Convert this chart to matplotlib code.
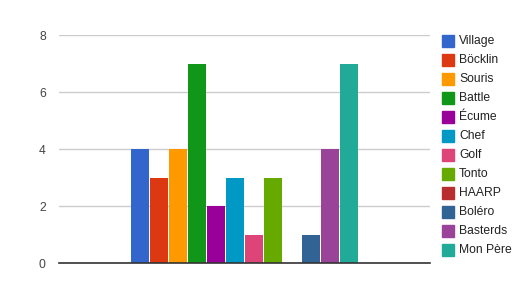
import matplotlib
matplotlib.use("Agg")
import matplotlib.pyplot as plt
from matplotlib.patches import Rectangle

series = ["Village", "Böcklin", "Souris", "Battle", "Écume", "Chef", "Golf",
          "Tonto", "HAARP", "Boléro", "Basterds", "Mon Père"]
values = [4, 3, 4, 7, 2, 3, 1, 3, 0, 1, 4, 7]
colors = ["#3366cc", "#dc3912", "#ff9900", "#109618", "#990099", "#0099c6",
          "#dd4477", "#66aa00", "#b82e2e", "#316395", "#994499", "#22aa99"]
yticks = [0, 2, 4, 6, 8]

plt.rcParams['font.family'] = ['Liberation Sans', 'DejaVu Sans']
W, H = 531, 298
fig = plt.figure(figsize=(W / 100, H / 100), dpi=100)
ax = fig.add_axes([59 / W, (H - 263.3) / H, (430 - 59) / W, (263.3 - 35.3) / H])

n = len(series)
group = 0.615
slot = group / n
bw = slot * 0.95
for i, (s, v, c) in enumerate(zip(series, values, colors)):
    x = -group / 2 + slot * (i + 0.5)
    ax.bar(x, v, width=bw, color=c, zorder=3)

ax.set_xlim(-0.5, 0.5)
ax.set_ylim(0, 8)
ax.set_yticks(yticks)
ax.set_yticklabels([str(t) for t in yticks])
ax.set_xticks([])
for sp in ["top", "right", "left"]:
    ax.spines[sp].set_visible(False)
ax.spines["bottom"].set_color("#333333")
ax.spines["bottom"].set_linewidth(1.2)
ax.spines["bottom"].set_zorder(4)
ax.grid(axis="y", color="#cccccc", linewidth=1, zorder=0)
ax.tick_params(axis="y", length=0, pad=9.5, labelsize=8.7, labelcolor="#444444")

# legend
for i, (s, c) in enumerate(zip(series, colors)):
    yc = 41 + i * 19
    fig.add_artist(Rectangle((442 / W, (H - yc - 6) / H), 12 / W, 12 / H,
                             transform=fig.transFigure, color=c))
    fig.text(459 / W, (H - yc) / H, s, fontsize=8.7, color="#222222",
             va="center", ha="left")

fig.savefig("out.png", dpi=100)
